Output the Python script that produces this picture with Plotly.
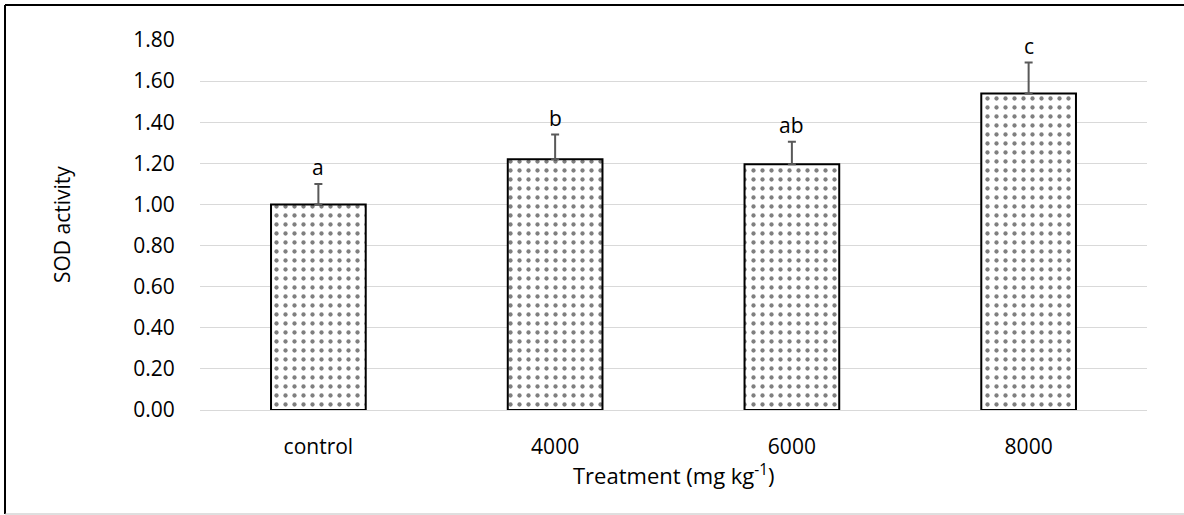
import plotly.graph_objects as go

categories = ["control", "4000", "6000", "8000"]
sod_values = [1.00, 1.22, 1.195, 1.54]
sod_errors = [0.10, 0.12, 0.11, 0.15]
letters = ["a", "b", "ab", "c"]
y_ticks = [0.0, 0.2, 0.4, 0.6, 0.8, 1.0, 1.2, 1.4, 1.6, 1.8]

FONT = "Open Sans"
FS = 21
W, H = 1184, 515
L, R, T, B = 200, 37, 40, 105
pw, ph = W - L - R, H - T - B


def px(x):
    return (x - L) / pw


def py(y):
    return (T + ph - y) / ph


fig = go.Figure()
fig.add_trace(go.Bar(
    x=categories, y=sod_values,
    marker=dict(color="white",
                line=dict(color="black", width=2),
                pattern=dict(shape=".", fgcolor="black", bgcolor="white",
                             size=9, solidity=0.18)),
    error_y=dict(type="data", array=sod_errors,
                 arrayminus=[0] * len(sod_errors), symmetric=False,
                 color="#595959", thickness=2, width=4),
    width=0.4,
))

# significance letters (category index used as x position)
for i, (v, e, t) in enumerate(zip(sod_values, sod_errors, letters)):
    fig.add_annotation(xref="x", yref="y", x=i, y=v + e, text=t,
                       showarrow=False, yanchor="bottom", yshift=1,
                       font=dict(family=FONT, size=FS, color="black"))

fig.add_annotation(xref="paper", yref="paper", x=0.5, y=py(474),
                   text="Treatment (mg kg<sup>-1</sup>)", showarrow=False,
                   xanchor="center", yanchor="middle",
                   font=dict(family=FONT, size=22, color="black"))
fig.add_annotation(xref="paper", yref="paper", x=px(62), y=0.5,
                   text="SOD activity", showarrow=False, textangle=-90,
                   xanchor="center", yanchor="middle",
                   font=dict(family=FONT, size=FS, color="black"))

# frame around the image
fig.add_shape(type="line", xref="paper", yref="paper",
              x0=px(5), x1=px(5), y0=py(5), y1=py(514),
              line=dict(color="black", width=2))
fig.add_shape(type="line", xref="paper", yref="paper",
              x0=px(5), x1=px(1184), y0=py(5), y1=py(5),
              line=dict(color="black", width=2))
fig.add_shape(type="line", xref="paper", yref="paper",
              x0=px(5), x1=px(1184), y0=py(514), y1=py(514),
              line=dict(color="#bfbfbf", width=1))

fig.update_layout(
    width=W, height=H,
    margin=dict(l=L, r=R, t=T, b=B, autoexpand=False),
    paper_bgcolor="white", plot_bgcolor="white",
    showlegend=False, bargap=0.6,
    font=dict(family=FONT, size=FS, color="black"),
    xaxis=dict(type="category", range=[-0.5, 3.5], showgrid=False,
               showline=True, linecolor="#d9d9d9", linewidth=1,
               ticks="outside", ticklen=18, tickcolor="rgba(0,0,0,0)",
               tickfont=dict(family=FONT, size=FS, color="black")),
    yaxis=dict(range=[0, 1.8], tickvals=y_ticks, tickformat=".2f",
               showgrid=True, gridcolor="#d9d9d9", gridwidth=1,
               zeroline=False, showline=False,
               ticks="outside", ticklen=20, tickcolor="rgba(0,0,0,0)",
               tickfont=dict(family=FONT, size=FS, color="black")),
)

fig.write_html("out.html", config={"displayModeBar": False},
               post_script="document.body.style.margin='0';document.body.style.overflow='hidden';")
